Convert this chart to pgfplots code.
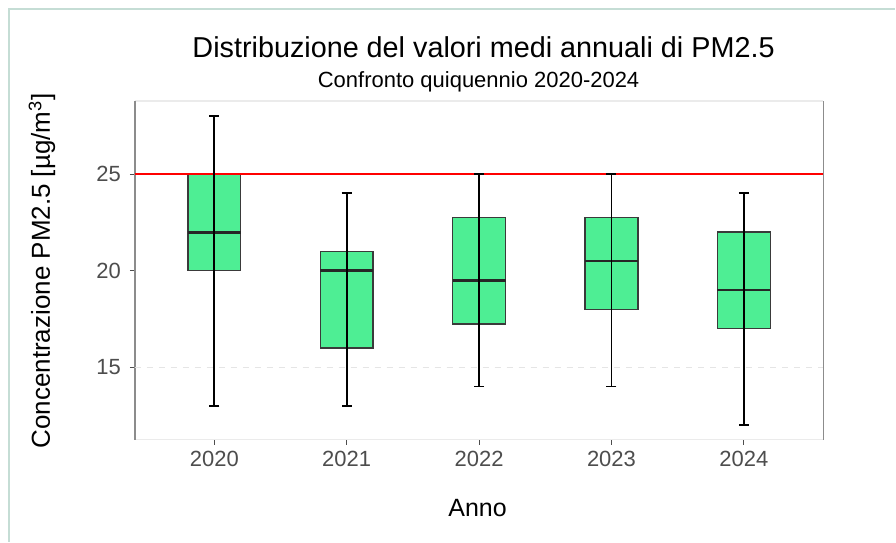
\documentclass[border=0pt]{standalone}
\usepackage{pgfplots}
\pgfplotsset{compat=1.18}
\usepgfplotslibrary{statistics}
\usepackage{fontspec}
\setmainfont{Liberation Sans}
\definecolor{boxgreen}{HTML}{4EEE94}
\definecolor{boxedge}{HTML}{3A3A3A}
\definecolor{ticktxt}{HTML}{4D4D4D}
\definecolor{frameline}{HTML}{C5DDD5}
\begin{document}
\begin{tikzpicture}[x=1pt,y=1pt]
\path[fill=white] (0,0) rectangle (448,271);
\draw[frameline, line width=0.8pt] (4.5,0) -- (4.5,266.5) -- (448,266.5);
\node[font=\fontsize{14.4}{16}\selectfont, anchor=center] at (242,247.5) {Distribuzione del valori medi annuali di PM2.5};
\node[font=\fontsize{11}{12}\selectfont, anchor=center] at (239.5,230) {Confronto quiquennio 2020-2024};
\node[font=\fontsize{12.5}{14}\selectfont, anchor=center] at (239,17) {Anno};
\node[font=\fontsize{13}{14}\selectfont, anchor=center, rotate=90] at (21,135.5) {Concentrazione PM2.5 [µg/m\textsuperscript{3}]};
\begin{axis}[
  at={(67.5pt,51pt)}, anchor=south west,
  scale only axis, width=344.5pt, height=169.5pt,
  xmin=0.4, xmax=5.6, ymin=11.26, ymax=28.79,
  xtick={1,2,3,4,5}, xticklabels={2020,2021,2022,2023,2024},
  ytick={15,20,25},
  xtick pos=bottom, ytick pos=left,
  tick align=outside, major tick length=2.5pt,
  tick style={ticktxt, line width=0.5pt},
  separate axis lines,
  x axis line style={draw=black!8, line width=0.6pt},
  y axis line style={draw=black!45, line width=0.7pt},
  ticklabel style={font=\fontsize{11}{13}\selectfont, text=ticktxt},
  /pgf/number format/assume math mode=true,
  xticklabel style={yshift=0.3pt},
  yticklabel style={xshift=-1pt},
  clip=false,
  boxplot/draw direction=y,
]
\addplot[black!10, dashed, line width=0.5pt] coordinates {(0.4,15) (5.6,15)};
\pgfplotsset{boxplot/every whisker/.style={draw=none},
  boxplot/every median/.style={draw=black!85, line width=1.4pt},
  boxplot/every box/.style={fill=boxgreen, draw=boxedge, line width=0.7pt}}
\addplot[boxplot prepared={median=22, upper quartile=25, lower quartile=20, upper whisker=25, lower whisker=20, draw position=1, box extend=0.4}] coordinates {};
\addplot[boxplot prepared={median=20, upper quartile=21, lower quartile=16, upper whisker=21, lower whisker=16, draw position=2, box extend=0.4}] coordinates {};
\addplot[boxplot prepared={median=19.5, upper quartile=22.75, lower quartile=17.25, upper whisker=22.75, lower whisker=17.25, draw position=3, box extend=0.4}] coordinates {};
\addplot[boxplot prepared={median=20.5, upper quartile=22.75, lower quartile=18, upper whisker=22.75, lower whisker=18, draw position=4, box extend=0.4}] coordinates {};
\addplot[boxplot prepared={median=19, upper quartile=22, lower quartile=17, upper whisker=22, lower whisker=17, draw position=5, box extend=0.4}] coordinates {};
\addplot[red, line width=0.8pt] coordinates {(0.4,25) (5.6,25)};
\addplot[draw=none, mark=none, error bars/.cd, y dir=both, y explicit, error mark=-,
  error bar style={black, line width=1pt},
  error mark options={black, line width=1pt, mark size=2.5pt, rotate=90}]
  coordinates {(1,20.5) +- (0,7.5) (2,18.5) +- (0,5.5) (5,18) +- (0,6)};
\addplot[draw=none, mark=none, error bars/.cd, y dir=both, y explicit, error mark=-,
  error bar style={black, line width=0.6pt},
  error mark options={black, line width=0.8pt, mark size=2.5pt, rotate=90}]
  coordinates {(3,19.5) +- (0,5.5) (4,19.5) +- (0,5.5)};
\end{axis}
\end{tikzpicture}
\end{document}
